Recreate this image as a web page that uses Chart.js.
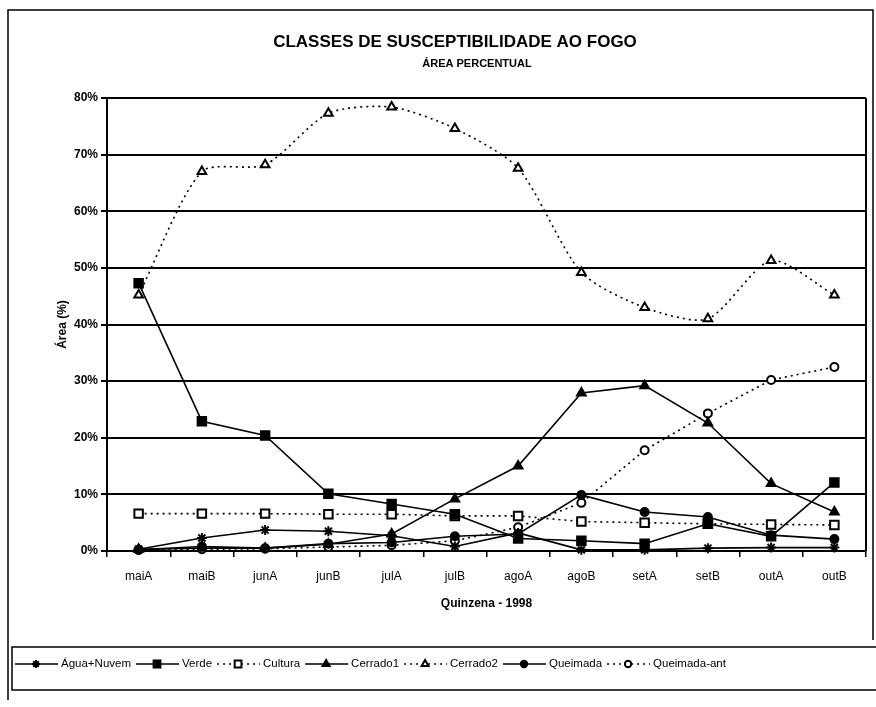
<!DOCTYPE html>
<html>
<head>
<meta charset="utf-8">
<script src="https://cdn.jsdelivr.net/npm/chart.js@4/dist/chart.umd.min.js"></script>
<style>
  html, body { margin: 0; padding: 0; background: #fff; }
  #wrap { width: 876px; height: 707px; }
</style>
</head>
<body>
<div id="wrap"><canvas id="lineChart" width="876" height="707"></canvas></div>
<script>
"use strict"

const quinzenas = ['maiA', 'maiB', 'junA', 'junB', 'julA', 'julB', 'agoA', 'agoB', 'setA', 'setB', 'outA', 'outB'];
const yTicks = [0, 10, 20, 30, 40, 50, 60, 70, 80];

const aguaNuvem = [0.3, 2.3, 3.7, 3.5, 2.7, 0.8, 3.2, 0.2, 0.2, 0.5, 0.6, 0.6];
const verde = [47.3, 22.9, 20.4, 10.1, 8.3, 6.5, 2.2, 1.8, 1.3, 4.8, 2.6, 12.1];
const cultura = [6.6, 6.6, 6.6, 6.5, 6.5, 6.2, 6.2, 5.2, 5.0, 4.8, 4.7, 4.6];
const cerrado1 = [0.3, 0.5, 0.5, 1.2, 3.0, 9.2, 15.0, 27.9, 29.2, 22.6, 11.9, 6.9];
const cerrado2 = [45.2, 67.0, 68.2, 77.3, 78.4, 74.6, 67.6, 49.2, 43.0, 41.0, 51.3, 45.2];
const queimada = [0.2, 0.8, 0.5, 1.3, 1.5, 2.6, 3.0, 9.9, 6.9, 6.0, 2.8, 2.1];
const queimadaAnt = [0.2, 0.3, 0.4, 0.7, 1.0, 1.8, 4.2, 8.5, 17.8, 24.3, 30.2, 32.5];

const FONT = "'Liberation Sans', Arial, sans-serif";
const DOTS = [2, 4];

function serie(label, data, style, filled, dotted, radius, tension) {
  return {
    label: label,
    data: data,
    borderColor: '#000',
    backgroundColor: filled ? '#000' : '#fff',
    borderWidth: 1.6,
    borderDash: dotted ? DOTS : [],
    pointStyle: style,
    pointRadius: radius,
    pointHoverRadius: radius,
    pointBorderColor: '#000',
    pointBackgroundColor: filled ? '#000' : '#fff',
    pointBorderWidth: 2,
    tension: tension || 0,
    clip: false
  };
}

// title, frame and legend drawn by hand on the canvas
const frame = {
  id: 'frame',
  afterDraw(chart) {
    let ctx = chart.ctx;
    let area = chart.chartArea;
    ctx.save();

    // right border of the plot
    ctx.strokeStyle = '#000';
    ctx.lineWidth = 2;
    ctx.beginPath();
    ctx.moveTo(area.right, area.top);
    ctx.lineTo(area.right, area.bottom);
    ctx.stroke();

    // outer chart border
    ctx.lineWidth = 1.5;
    ctx.beginPath();
    ctx.moveTo(8, 700);
    ctx.lineTo(8, 10);
    ctx.lineTo(873, 10);
    ctx.lineTo(873, 640);
    ctx.stroke();

    // titles
    ctx.fillStyle = '#000';
    ctx.textAlign = 'center';
    ctx.textBaseline = 'middle';
    ctx.font = 'bold 17px ' + FONT;
    ctx.fillText('CLASSES DE SUSCEPTIBILIDADE AO FOGO', 455, 42);
    ctx.font = 'bold 11px ' + FONT;
    ctx.fillText('ÁREA PERCENTUAL', 477, 64);

    // legend box (runs past the right edge)
    ctx.lineWidth = 1.5;
    ctx.beginPath();
    ctx.moveTo(900, 647);
    ctx.lineTo(12, 647);
    ctx.lineTo(12, 690);
    ctx.lineTo(900, 690);
    ctx.stroke();

    // legend entries
    let x = 15;
    let y = 664;
    ctx.font = '11.5px ' + FONT;
    ctx.textAlign = 'left';
    chart.data.datasets.forEach(ds => {
      ctx.strokeStyle = '#000';
      ctx.lineWidth = 1.6;
      ctx.setLineDash(ds.borderDash);
      ctx.beginPath();
      ctx.moveTo(x, y);
      ctx.lineTo(x + 43, y);
      ctx.stroke();
      ctx.setLineDash([]);
      ctx.fillStyle = ds.pointBackgroundColor;
      ctx.strokeStyle = '#000';
      ctx.lineWidth = 2;
      Chart.helpers.drawPoint(ctx, {
        pointStyle: ds.pointStyle,
        radius: ds.pointRadius * 0.8,
        borderWidth: 2,
        rotation: 0
      }, x + 21, y);
      ctx.fillStyle = '#000';
      ctx.fillText(ds.label, x + 46, y);
      x += 46 + ctx.measureText(ds.label).width + 5;
    });

    ctx.restore();
  }
};

const ctxL = document.getElementById('lineChart').getContext('2d');
const myLineChart = new Chart(ctxL, {
  type: 'line',
  data: {
    labels: quinzenas,
    datasets: [
      serie('Água+Nuvem', aguaNuvem, 'star', true, false, 5),
      serie('Verde', verde, 'rect', true, false, 6),
      serie('Cultura', cultura, 'rect', false, true, 6),
      serie('Cerrado1', cerrado1, 'triangle', true, false, 5),
      serie('Cerrado2', cerrado2, 'triangle', false, true, 5, 0.25),
      serie('Queimada', queimada, 'circle', true, false, 4),
      serie('Queimada-ant', queimadaAnt, 'circle', false, true, 4)
    ]
  },
  plugins: [frame],
  options: {
    responsive: false,
    animation: false,
    events: [],
    layout: {
      padding: { left: 10, right: 10, top: 98, bottom: 92 }
    },
    plugins: {
      legend: { display: false },
      title: { display: false },
      tooltip: { enabled: false }
    },
    scales: {
      x: {
        offset: true,
        afterFit: scale => { scale.height = 64; },
        grid: {
          offset: true,
          drawOnChartArea: false,
          drawTicks: true,
          tickLength: 6,
          color: '#000',
          lineWidth: 1.5
        },
        border: { display: true, color: '#000', width: 2 },
        ticks: {
          color: '#000',
          padding: 12,
          maxRotation: 0,
          font: { family: FONT, size: 12 }
        },
        title: {
          display: true,
          text: 'Quinzena - 1998',
          color: '#000',
          padding: { top: 0, bottom: 4 },
          font: { family: FONT, size: 12, weight: 'bold' }
        }
      },
      y: {
        min: yTicks[0],
        max: yTicks[yTicks.length - 1],
        afterFit: scale => { scale.width = 97; },
        afterBuildTicks: scale => { scale.ticks = yTicks.map(v => ({ value: v })); },
        grid: {
          color: '#000',
          lineWidth: 2,
          tickLength: 6
        },
        border: { display: true, color: '#000', width: 2 },
        ticks: {
          color: '#000',
          padding: 3,
          callback: v => v + '%',
          font: { family: FONT, size: 12, weight: 'bold' }
        },
        title: {
          display: true,
          text: 'Área (%)',
          color: '#000',
          padding: { top: 45, bottom: 0 },
          font: { family: FONT, size: 12, weight: 'bold' }
        }
      }
    }
  }
});
</script>
</body>
</html>
